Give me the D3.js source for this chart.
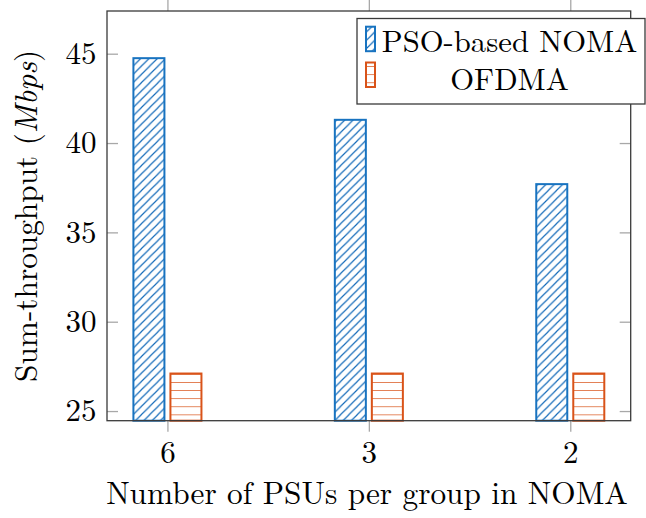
<!DOCTYPE html>
<html>
<head>
<meta charset="utf-8">
<script src="https://cdn.jsdelivr.net/npm/d3@7"></script>
<style>
  html, body { margin: 0; padding: 0; background: #fff; }
  svg { display: block; }
</style>
</head>
<body>
<script>
// ---- data ----
const categories = ["6", "3", "2"];
const psoValues = [44.75, 41.3, 37.7];
const ofdmaValues = [27.1, 27.1, 27.1];
const yTickValues = [25, 30, 35, 40, 45];
const seriesNames = ["PSO-based NOMA", "OFDMA"];
const xAxisTitle = "Number of PSUs per group in NOMA";

// ---- layout ----
const W = 646, H = 518;
const FONT = "'Latin Modern Roman', 'Liberation Serif', serif";
const plot = { left: 107, right: 630.7, top: 11, bottom: 420.7 };
const blue = "#1873c0";
const orange = "#d95319";

const svg = d3.select("body").append("svg").attr("width", W).attr("height", H);

const x = d3.scaleLinear().domain([-0.3, categories.length - 1 + 0.3]).range([plot.left, plot.right]);
const y = d3.scaleLinear().domain([24.46, 47.39]).range([plot.bottom, plot.top]);

// patterns
const defs = svg.append("defs");
const pNE = defs.append("pattern").attr("id", "ne").attr("patternUnits", "userSpaceOnUse")
  .attr("width", 8.3).attr("height", 8.3);
pNE.append("path").attr("d", "M-2,2.075 L2.075,-2 M0,8.3 L8.3,0 M6.225,10.375 L10.375,6.225")
  .attr("stroke", "#1068b8").attr("stroke-width", 1.15).attr("fill", "none");
const pH = defs.append("pattern").attr("id", "hl").attr("patternUnits", "userSpaceOnUse")
  .attr("width", 8.2).attr("height", 8.1).attr("y", 1.3);
pH.append("line").attr("x1", 0).attr("x2", 8.2).attr("y1", 0).attr("y2", 0)
  .attr("stroke", orange).attr("stroke-width", 1.4);

const barW = 0.154;   // in x-units
const off = 0.0919;

const series = [
  { name: seriesNames[0], values: psoValues, color: blue, fill: "url(#ne)", dx: -off },
  { name: seriesNames[1], values: ofdmaValues, color: orange, fill: "url(#hl)", dx: off }
];

series.forEach(s => {
  const g = svg.append("g");
  ["#fff", s.fill].forEach((f, k) => {
    g.append("g").selectAll("rect").data(s.values).join("rect")
      .attr("x", (d, i) => x(i + s.dx - barW / 2))
      .attr("width", (d, i) => x(i + s.dx + barW / 2) - x(i + s.dx - barW / 2))
      .attr("y", d => y(d))
      .attr("height", d => plot.bottom - y(d))
      .attr("fill", f)
      .attr("stroke", k ? s.color : "none").attr("stroke-width", 2);
  });
});

// axes
const tickColor = "#a8a8a8";
const idx = categories.map((c, i) => i);

const gB = svg.append("g").attr("transform", `translate(0,${plot.bottom})`)
  .call(d3.axisBottom(x).tickValues(idx).tickFormat(i => categories[i]).tickSizeInner(11).tickSizeOuter(0).tickPadding(9.8));
const gT = svg.append("g").attr("transform", `translate(0,${plot.top})`)
  .call(d3.axisTop(x).tickValues(idx).tickFormat("").tickSizeInner(11).tickSizeOuter(0));
const gL = svg.append("g").attr("transform", `translate(${plot.left},0)`)
  .call(d3.axisLeft(y).tickValues(yTickValues).tickFormat(d3.format("d")).tickSizeInner(-11).tickSizeOuter(0).tickPadding(10.5));
const gR = svg.append("g").attr("transform", `translate(${plot.right},0)`)
  .call(d3.axisRight(y).tickValues(yTickValues).tickFormat("").tickSizeInner(-11).tickSizeOuter(0));

[gB, gT, gL, gR].forEach(g => {
  g.attr("font-family", null).attr("font-size", null);
  g.select(".domain").remove();
  g.selectAll(".tick line").attr("stroke", tickColor).attr("stroke-width", 1.3);
  g.selectAll(".tick text").style("font-family", FONT).style("font-size", "31px").attr("fill", "#000");
});
gL.selectAll(".tick text").attr("dy", "0.32em");

// frame
svg.append("rect")
  .attr("x", plot.left).attr("y", plot.top)
  .attr("width", plot.right - plot.left).attr("height", plot.bottom - plot.top)
  .attr("fill", "none").attr("stroke", "#3a3a3a").attr("stroke-width", 1.3);

// axis titles
svg.append("text")
  .attr("x", 367).attr("y", 504)
  .attr("text-anchor", "middle")
  .style("font-family", FONT).style("font-size", "31.3px")
  .text(xAxisTitle);

const yt = svg.append("text")
  .attr("transform", `translate(37,${(plot.top + plot.bottom) / 2}) rotate(-90)`)
  .attr("text-anchor", "middle")
  .style("font-family", FONT).style("font-size", "31.3px");
yt.append("tspan").text("Sum-throughput (");
yt.append("tspan").style("font-style", "italic").text("Mbps");
yt.append("tspan").text(")");

// legend
const lg = svg.append("g");
lg.append("rect").attr("x", 357).attr("y", 18.5).attr("width", 288).attr("height", 85.5)
  .attr("fill", "#fff").attr("stroke", "#3a3a3a").attr("stroke-width", 1.3);
const rows = [{ iy: 26.7, ty: 51.5 }, { iy: 62.5, ty: 90 }];
series.forEach((s, i) => {
  lg.append("rect").attr("x", 366).attr("y", rows[i].iy).attr("width", 9).attr("height", 24.5)
    .attr("fill", "#fff");
  lg.append("rect").attr("x", 366).attr("y", rows[i].iy).attr("width", 9).attr("height", 24.5)
    .attr("fill", s.fill).attr("stroke", s.color).attr("stroke-width", 2);
  lg.append("text").attr("x", 509.5).attr("y", rows[i].ty)
    .attr("text-anchor", "middle")
    .style("font-family", FONT).style("font-size", "30.7px")
    .text(s.name);
});
</script>
</body>
</html>
